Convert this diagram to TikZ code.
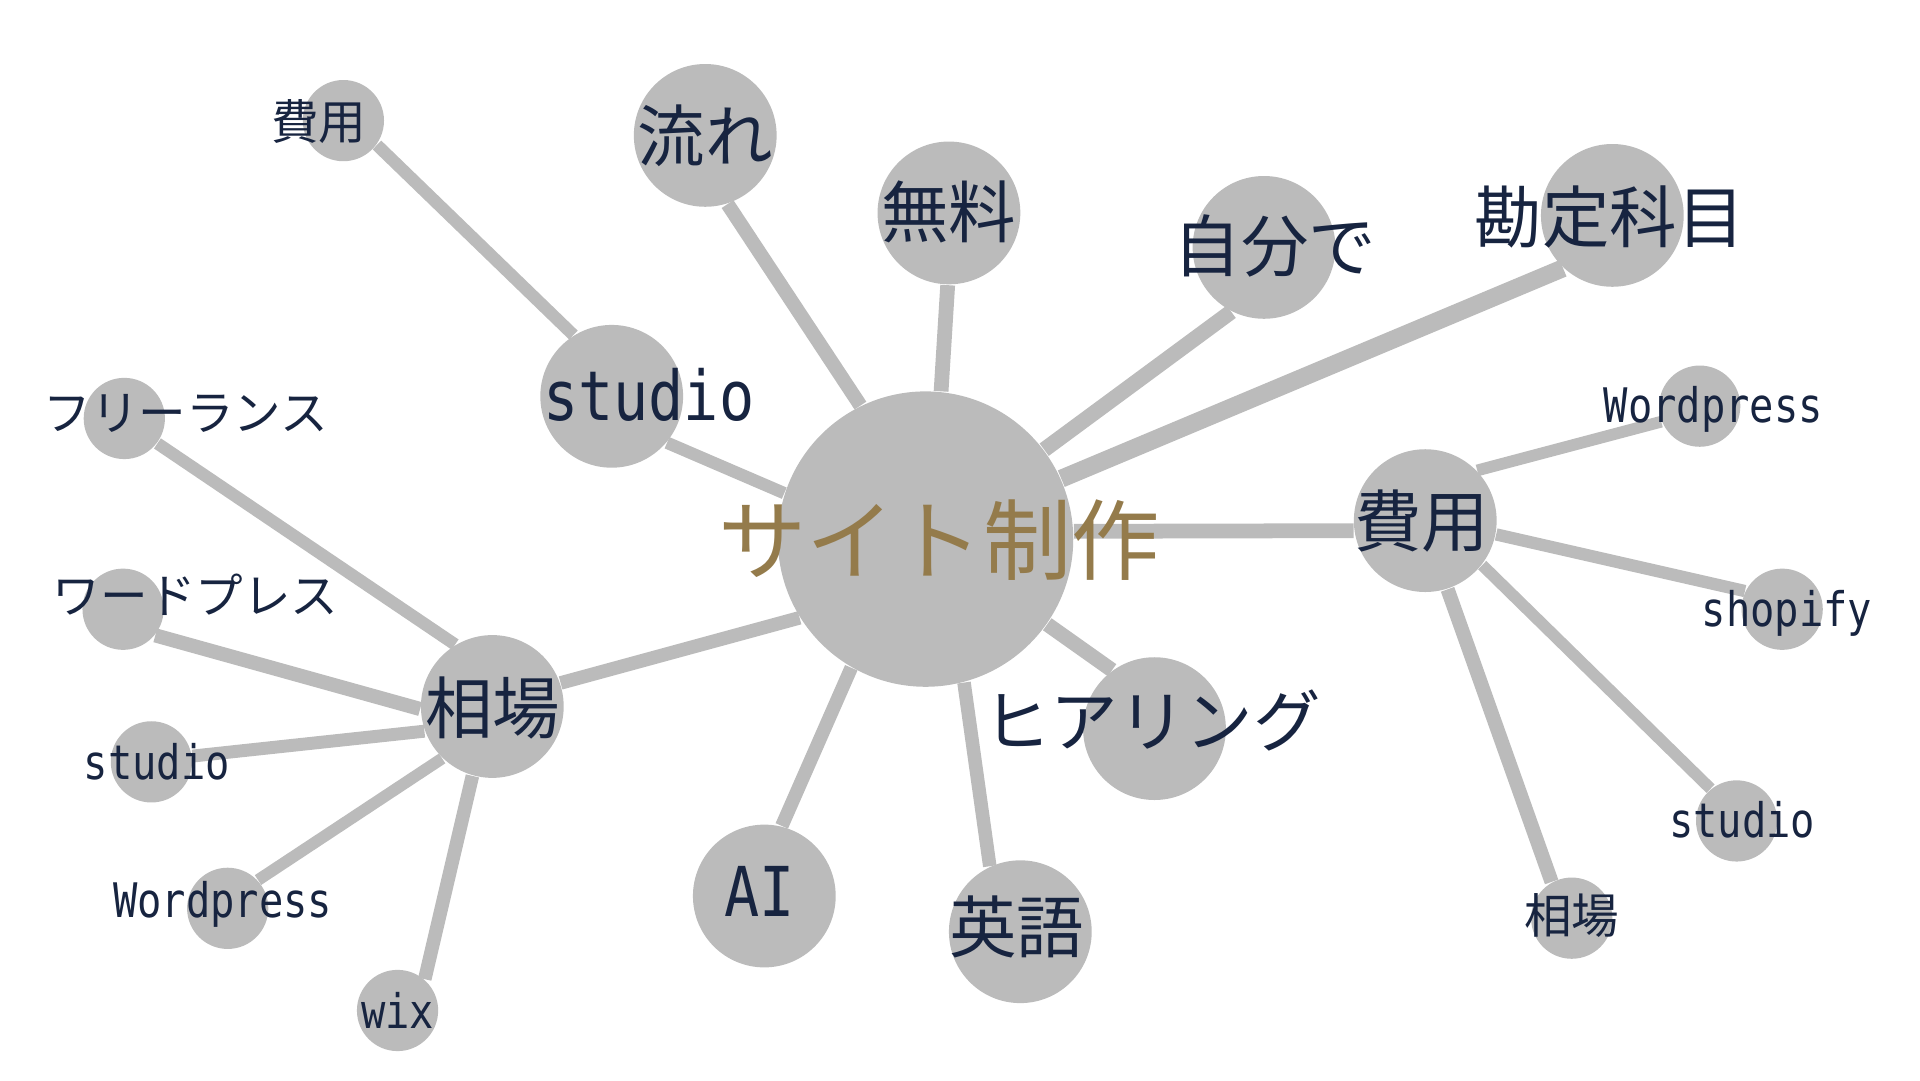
\documentclass[tikz,border=0pt]{standalone}
\usepackage{fontspec}
\setmainfont{Noto Sans CJK JP}
\newfontfamily\latinfont[FakeStretch=0.85]{DejaVu Sans Mono}
\usepackage{xcolor}
\definecolor{BUBcolor}{HTML}{BBBBBB}
\definecolor{TXTcolor}{HTML}{172440}
\definecolor{HUBcolor}{HTML}{947B4B}
\usepackage{tikz}
\usetikzlibrary{backgrounds}

\begin{document}
\begin{tikzpicture}
    \tikzset{%
        bubble/.style={circle, fill=BUBcolor, inner sep=0pt, minimum size=#1cm},
        bubble/.default=1.16,
        hubword/.style={text=HUBcolor, inner sep=0pt, font=\fontsize{20.4pt}{21pt}\selectfont},
        word/.style={text=TXTcolor, inner sep=0pt, font=\fontsize{15.6pt}{16pt}\selectfont},
        smallword/.style={text=TXTcolor, inner sep=0pt, font=\fontsize{11pt}{11pt}\selectfont},
        latin/.style={text=TXTcolor, inner sep=0pt, font=\latinfont\fontsize{15.9pt}{16pt}\selectfont},
        smalllatin/.style={text=TXTcolor, inner sep=0pt, font=\latinfont\fontsize{11pt}{11pt}\selectfont},
        link/.style={draw=BUBcolor, line width=#1mm},
        link/.default=1.1,
    }

    \useasboundingbox (0, 0) rectangle (15.6, -8.775);

    % hub
    \node (site) at (7.52, -4.38) [bubble=2.40] {};

    % first ring
    \node (studioA) at (4.97, -3.22) [bubble] {};
    \node (nagare) at (5.73, -1.10) [bubble] {};
    \node (muryou) at (7.71, -1.73) [bubble] {};
    \node (jibun) at (10.27, -2.01) [bubble] {};
    \node (kanjou) at (13.10, -1.75) [bubble] {};
    \node (hiyouR) at (11.58, -4.23) [bubble] {};
    \node (hearing) at (9.38, -5.92) [bubble] {};
    \node (eigo) at (8.29, -7.57) [bubble] {};
    \node (ai) at (6.21, -7.28) [bubble] {};
    \node (soubaL) at (4.00, -5.74) [bubble] {};

    % second ring
    \node (hiyouS) at (2.79, -0.98) [bubble=0.66] {};
    \node (free) at (1.01, -3.40) [bubble=0.66] {};
    \node (wpJ) at (1.00, -4.95) [bubble=0.66] {};
    \node (studioL) at (1.23, -6.19) [bubble=0.66] {};
    \node (wpL) at (1.85, -7.38) [bubble=0.66] {};
    \node (wix) at (3.23, -8.21) [bubble=0.66] {};
    \node (wpR) at (13.81, -3.30) [bubble=0.66] {};
    \node (shopify) at (14.48, -4.95) [bubble=0.66] {};
    \node (studioR) at (14.11, -6.67) [bubble=0.66] {};
    \node (soubaR) at (12.77, -7.46) [bubble=0.66] {};

    % links, behind the bubbles (node/angle at node/angle at site/width)
    \begin{scope}[on background layer]
        \foreach \leaf/\a/\b/\w in {studioA/320/162/1.0, nagare/288/116/1.15, muryou/269/84/1.2, jibun/243/37/1.25, kanjou/227/24/1.45, hiyouR/188/3/1.2, hearing/126/325/1.2, eigo/115/285/1.1, ai/76/240/1.1, soubaL/19/212/1.1} {%
                \draw [link=\w] (site.\b) -- (\leaf.\a);
            };
        \draw [link=1.0] (studioA.122) -- (hiyouS.324);
        \foreach \leaf/\a/\b/\w in {free/323/121/1.0, wpJ/321/182/1.15, studioL/8/200/1.05, wpL/43/226/0.95, wix/49/254/1.1} {%
                \draw [link=\w] (soubaL.\b) -- (\leaf.\a);
            };
        \foreach \leaf/\a/\b/\w in {wpR/202/44/0.95, shopify/154/349/1.0, studioR/129/322/0.95, soubaR/119/288/1.15} {%
                \draw [link=\w] (hiyouR.\b) -- (\leaf.\a);
            };
    \end{scope}

    % labels
    \node (site-t) at (7.63, -4.39) [hubword] {サイト制作};
    \node (studioA-t) at (5.27, -3.21) [latin] {studio};
    \node (nagare-t) at (5.73, -1.10) [word] {流れ};
    \node (muryou-t) at (7.71, -1.72) [word] {無料};
    \node (jibun-t) at (10.36, -2.00) [word] {自分で};
    \node (kanjou-t) at (13.08, -1.76) [word] {勘定科目};
    \node (hiyouR-t) at (11.55, -4.23) [word] {費用};
    \node (hearing-t) at (9.36, -5.85) [word] {ヒアリング};
    \node (eigo-t) at (8.26, -7.53) [word] {英語};
    \node (ai-t) at (6.17, -7.24) [latin] {AI};
    \node (soubaL-t) at (4.005, -5.75) [word] {相場};

    \node (hiyouS-t) at (2.59, -0.99) [smallword] {費用};
    \node (free-t) at (1.51, -3.36) [smallword] {フリーランス};
    \node (wpJ-t) at (1.59, -4.83) [smallword] {ワードプレス};
    \node (studioL-t) at (1.275, -6.19) [smalllatin] {studio};
    \node (wpL-t) at (1.81, -7.35) [smalllatin] {Wordpress};
    \node (wix-t) at (3.23, -8.21) [smalllatin] {wix};
    \node (wpR-t) at (13.92, -3.33) [smalllatin] {Wordpress};
    \node (shopify-t) at (14.52, -4.98) [smalllatin] {shopify};
    \node (studioR-t) at (14.155, -6.66) [smalllatin] {studio};
    \node (soubaR-t) at (12.77, -7.44) [smallword] {相場};

\end{tikzpicture}
\end{document}
